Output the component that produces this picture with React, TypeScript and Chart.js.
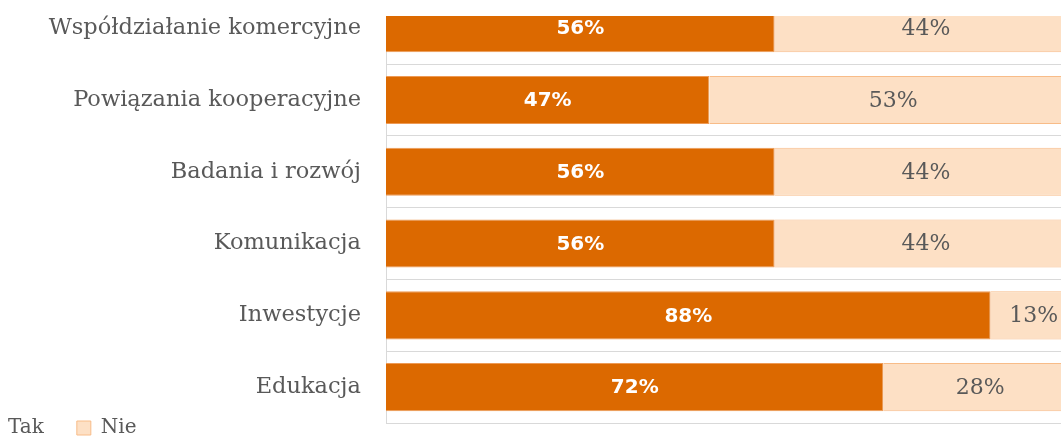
import { useEffect, useRef } from "react";
import { Chart, registerables } from "chart.js";

Chart.register(...registerables);

const categories = [
  "Współdziałanie komercyjne",
  "Powiązania kooperacyjne",
  "Badania i rozwój",
  "Komunikacja",
  "Inwestycje",
  "Edukacja",
];
const seriesNames = ["Tak", "Nie"];
const takValues = [56.25, 46.8, 56.25, 56.25, 87.5, 72];
const nieValues = [43.75, 53.2, 43.75, 43.75, 12.5, 28];

const TAK_COLOR = "#DC6900";
const NIE_COLOR = "#FDE0C5";
const BORDER_COLOR = "#F8BC88";
const TEXT_COLOR = "#595959";
const SERIF = "'DejaVu Serif', serif";

export default function App() {
  const ref = useRef<HTMLCanvasElement>(null);

  useEffect(() => {
    if (!ref.current) return;

    const barLabels = {
      id: "barLabels",
      afterDatasetsDraw(chart: any) {
        const ctx = chart.ctx;
        chart.data.datasets.forEach((ds: any, di: number) => {
          const meta = chart.getDatasetMeta(di);
          meta.data.forEach((el: any, i: number) => {
            const { x, y, base } = el.getProps(["x", "y", "base"], true);
            const v = ds.data[i].x;
            ctx.save();
            if (di === 0) {
              ctx.font = "bold 20px 'DejaVu Sans', sans-serif";
              ctx.fillStyle = "#FFFFFF";
            } else {
              ctx.font = "22px " + SERIF;
              ctx.fillStyle = TEXT_COLOR;
            }
            ctx.textAlign = "center";
            ctx.textBaseline = "middle";
            ctx.fillText(Math.round(v) + "%", (x + base) / 2, y + 1);
            ctx.restore();
          });
        });
      },
    };

    const legendShift = {
      id: "legendShift",
      afterLayout(chart: any) {
        const l = chart.legend;
        if (l) {
          l.top -= 38;
          l.bottom -= 38;
        }
      },
    };

    const chart = new Chart(ref.current, {
      type: "bar",
      data: {
        datasets: [
          {
            label: seriesNames[0],
            data: takValues.map((v, i) => ({ x: v, y: i })),
            backgroundColor: TAK_COLOR,
            borderColor: "#EE9A55",
            borderWidth: 1,
            categoryPercentage: 0.67,
            barPercentage: 1,
          },
          {
            label: seriesNames[1],
            data: nieValues.map((v, i) => ({ x: v, y: i })),
            backgroundColor: NIE_COLOR,
            borderColor: BORDER_COLOR,
            borderWidth: 1,
            categoryPercentage: 0.67,
            barPercentage: 1,
          },
        ],
      },
      options: {
        indexAxis: "y",
        responsive: false,
        maintainAspectRatio: false,
        animation: false,
        layout: { padding: { top: 16, left: 0, right: 0, bottom: 0 } },
        scales: {
          x: {
            type: "linear",
            min: 0,
            max: 100,
            stacked: true,
            display: false,
          },
          y: {
            type: "linear",
            reverse: true,
            offset: false,
            min: -0.171,
            max: 5.5,
            stacked: true,
            afterBuildTicks: (s: any) => {
              s.ticks = categories.map((_, i) => ({ value: i }));
            },
            afterFit: (s: any) => {
              s.width = 435;
              s.paddingTop = 0;
              s.paddingBottom = 0;
            },
            grid: {
              offset: true,
              color: "#D9D9D9",
              drawTicks: false,
              lineWidth: 1,
            },
            border: { display: true, color: "#D9D9D9", width: 1 },
            ticks: {
              autoSkip: false,
              padding: 25,
              color: TEXT_COLOR,
              font: { family: SERIF, size: 22.5 },
              callback: (v: any) => categories[v as number] ?? "",
            },
          },
        },
        plugins: {
          legend: {
            display: true,
            position: "bottom",
            align: "start",
            labels: {
              boxWidth: 14,
              boxHeight: 14,
              padding: 33,
              color: TEXT_COLOR,
              font: { family: SERIF, size: 20 },
            },
          },
          tooltip: { enabled: false },
        },
      },
      plugins: [barLabels, legendShift],
    } as any);

    return () => chart.destroy();
  }, []);

  return (
    <div
      style={{
        position: "fixed",
        left: 0,
        top: 0,
        width: 1061,
        height: 437,
        overflow: "hidden",
        background: "#FFFFFF",
      }}
    >
      <div style={{ position: "absolute", left: -49, top: 0, width: 1126, height: 486 }}>
        <canvas ref={ref} width={1126} height={486} style={{ display: "block", width: 1126, height: 486 }} />
      </div>
    </div>
  );
}
